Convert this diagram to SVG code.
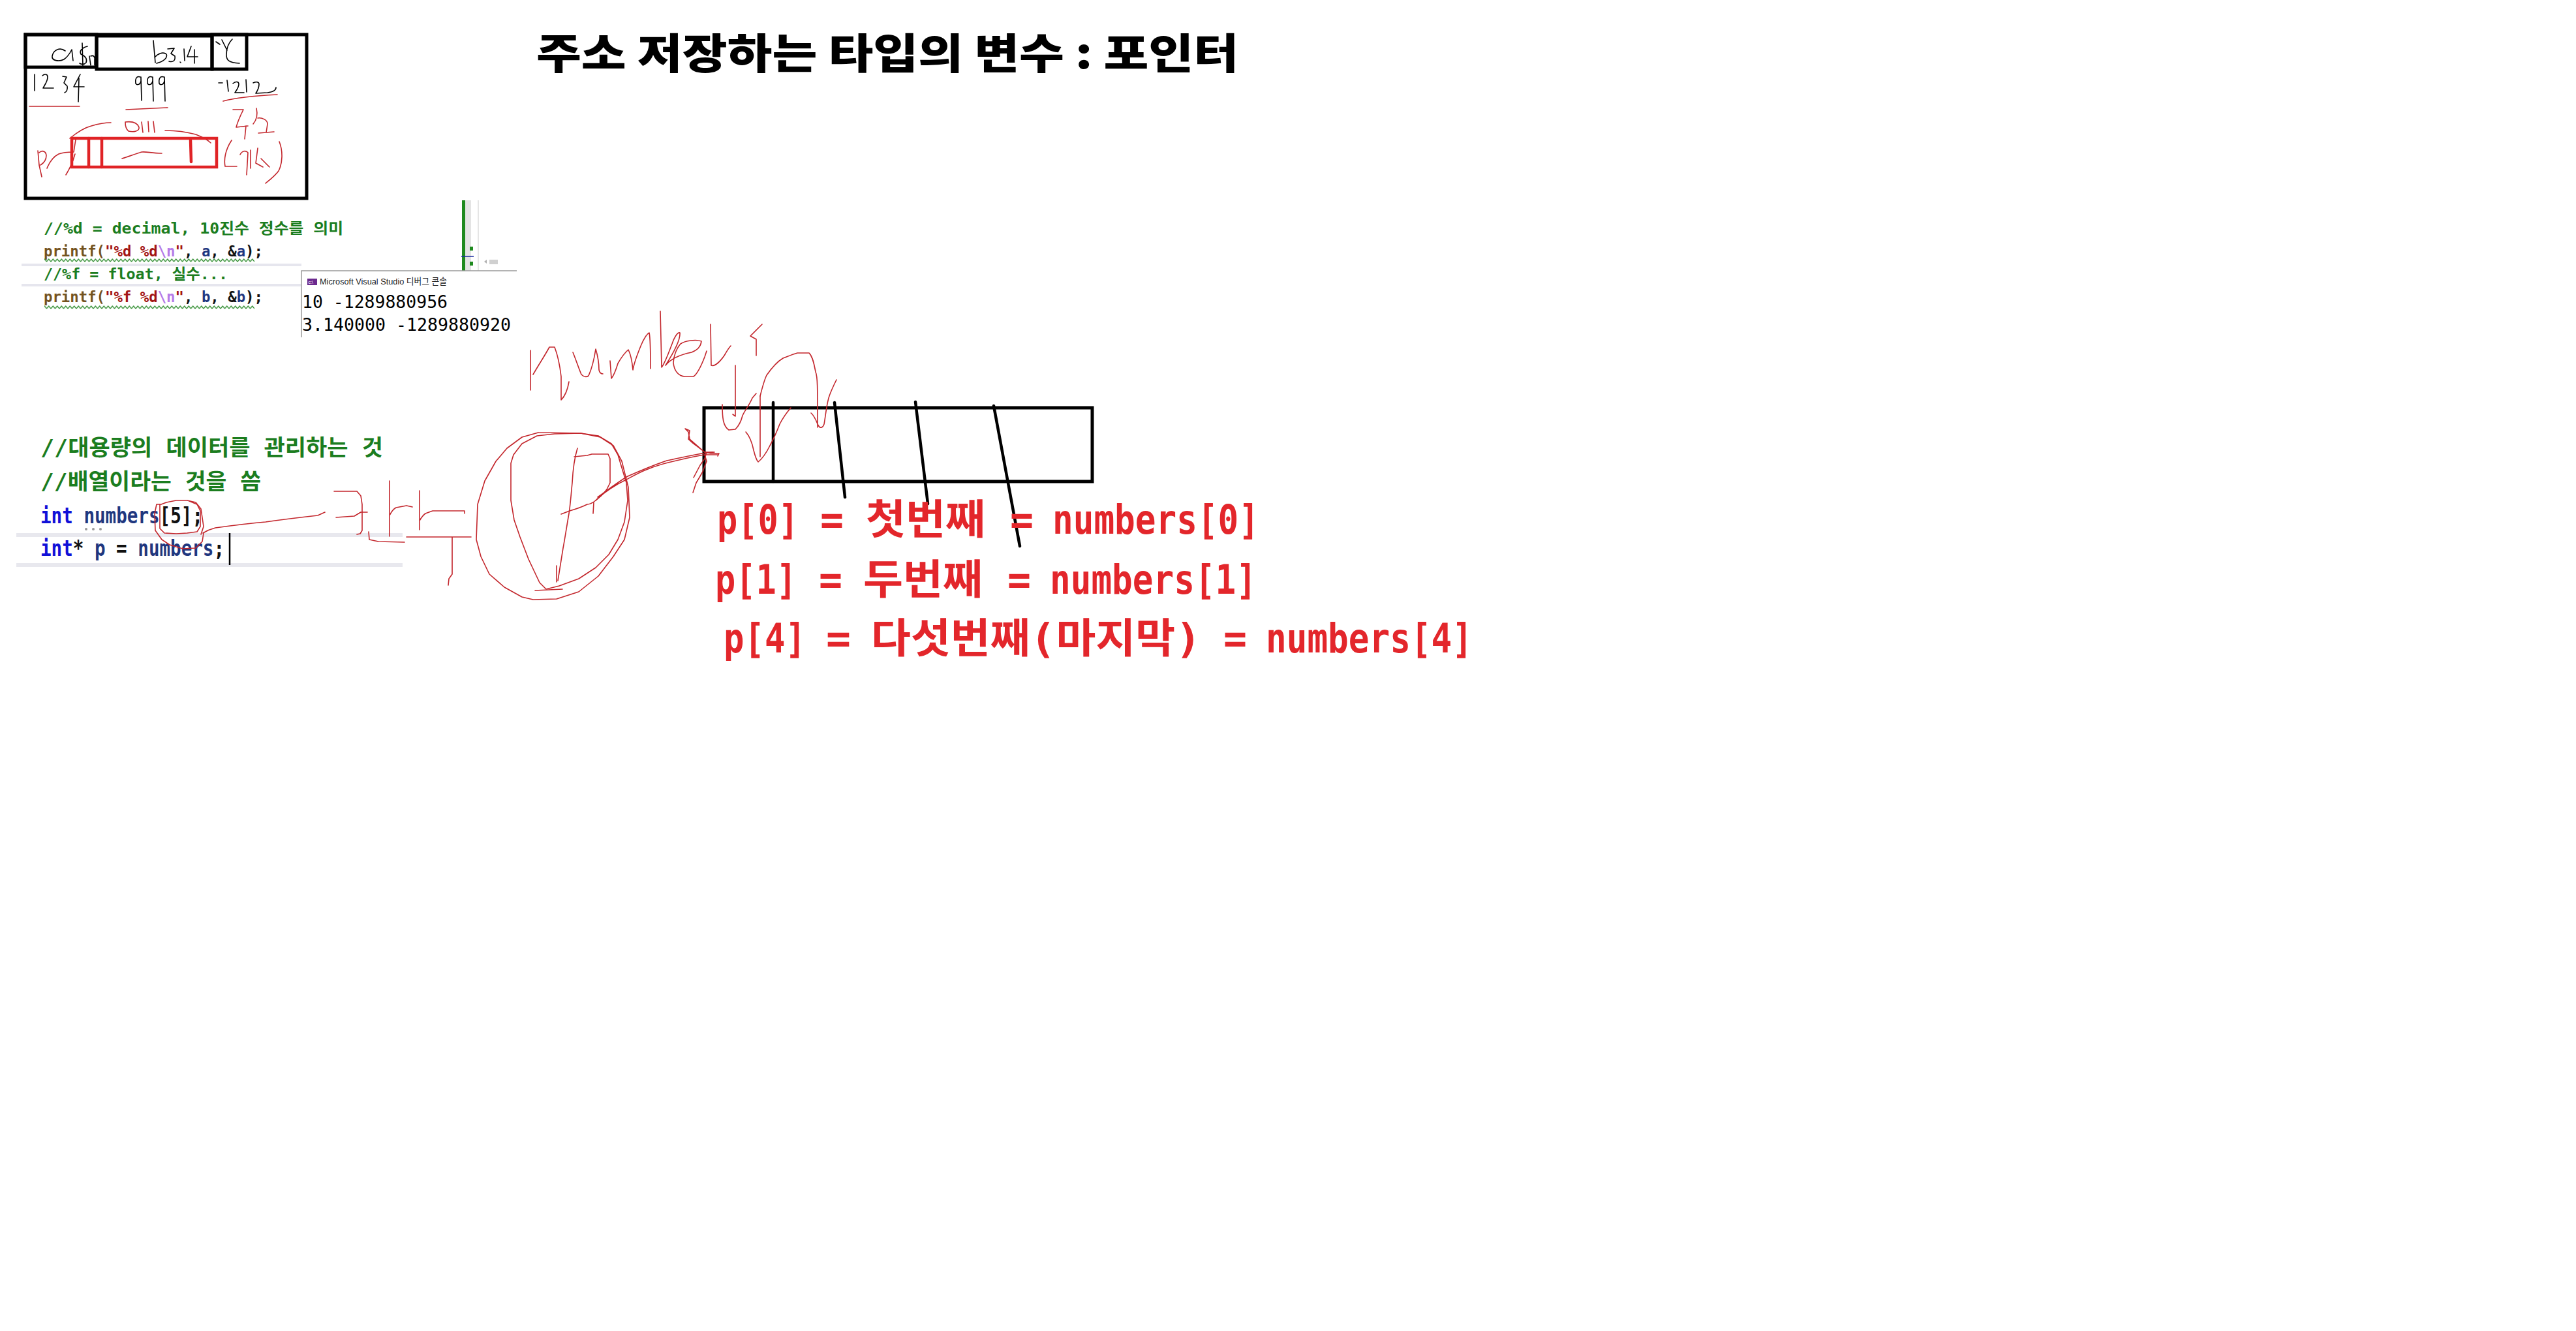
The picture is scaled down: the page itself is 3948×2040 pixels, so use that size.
<svg xmlns="http://www.w3.org/2000/svg" width="3948" height="2040" viewBox="0 0 3948 2040">
<style>
.ink{fill:none;stroke:#000;stroke-width:1.6;stroke-linecap:round;stroke-linejoin:round}
.hw{fill:none;stroke:#c3262c;stroke-width:1.6;stroke-linecap:round;stroke-linejoin:round}
.box{fill:none;stroke:#000;stroke-width:5}
.rbox{fill:none;stroke:#e02326;stroke-width:4.5;stroke-linecap:round}
.bl{stroke:#000;stroke-width:4.5;stroke-linecap:round}
.code{font-family:"DejaVu Sans Mono","Noto Sans CJK KR",monospace;font-weight:700}
.cm{fill:#1b7d1f}
.fn{fill:#74531f}
.st{fill:#a31515}
.esc{fill:#b57be8}
.var{fill:#1f377f}
.kw{fill:#1010d8}
.pn{fill:#111}
.red{font-family:"DejaVu Sans Mono","Noto Sans CJK KR",monospace;font-weight:700;font-size:63px;fill:#e3262b}
</style>
<defs>
<pattern id="sq" width="6.5" height="6" patternUnits="userSpaceOnUse"><path d="M0,5 L3.25,1 L6.5,5" fill="none" stroke="#2a8a2a" stroke-width="1.2"/></pattern>
</defs>
<rect width="3948" height="2040" fill="#fff"/>

<g id="title">
<text x="822" y="105" font-family="Noto Sans CJK KR, sans-serif" font-weight="900" font-size="64" textLength="1076" lengthAdjust="spacingAndGlyphs" fill="#000">주소 저장하는 타입의 변수 : 포인터</text>
</g>

<g id="memory-sketch">
<rect class="box" x="39" y="53" width="431" height="251"/>
<rect class="box" x="39" y="53" width="109" height="50"/>
<rect class="box" x="148" y="55" width="177" height="51"/>
<rect class="box" x="325" y="53" width="53" height="53"/>
<path class="ink" d="M100,78 C92,72 82,76 80,86 C79,93 90,95 98,91 C104,87 108,80 110,76 L112,93"/>
<path class="ink" d="M126,66 L127,101 M134,71 C126,73 121,78 124,83 C131,86 134,90 132,96 C129,99 125,99 122,97 M137,86 L139,100 M139,86 C143,84 146,87 145,92 L145,100"/>
<path class="ink" d="M235,62 L238,96 M237,88 C242,82 250,79 255,83 C257,88 252,94 240,97"/>
<path class="ink" d="M257,75 L267,74 L262,82 L268,86 C269,92 266,96 259,94 M276,95 L277,96 M282,75 L283,93 M293,71 L287,87 L303,87 M298,76 L298,97"/>
<path class="ink" d="M331,64 L337,68 M340,61 L348,77 M356,60 C350,66 347,74 347,84 C347,92 350,96 367,97"/>
<path class="ink" d="M53,114 L53,139 M65,116 C68,113 73,113 73,118 C73,125 68,131 66,135 L82,135 M96,117 L102,118 L98,127 L103,132 C104,137 102,141 99,142 M123,114 L113,133 L129,133 M121,120 L120,156"/>
<path class="ink" d="M215,118 C209,116 207,121 208,128 C210,131 215,130 216,124 L216,118 L217,154 M233,118 C227,116 225,121 226,128 C228,131 233,130 234,124 L234,118 L235,155 M251,118 C245,116 243,121 244,128 C246,131 251,130 252,124 L252,118 L253,155"/>
<path class="ink" d="M335,127 L341,127 M348,123 L350,140 M357,128 C360,125 366,124 366,129 C366,134 362,139 360,142 L374,142 M377,122 L378,141 M388,127 C392,125 397,125 397,129 C397,135 394,140 392,143 L410,142 C418,141 423,139 423,134"/>
<path class="hw" d="M45,163 L122,163 M193,168 L257,165 M342,155 C360,150 385,147 425,145"/>
<path class="hw" d="M357,168 L373,168 C368,178 364,187 362,195 L380,193 M377,193 L375,213 M393,166 C395,175 394,183 388,190 M395,181 C402,180 410,184 410,190 L408,203 M396,204 L420,202"/>
<path class="hw" d="M355,215 C345,230 343,245 345,255 L363,255 M368,237 C371,231 377,230 380,234 L378,268 M384,230 L384,258 M395,227 L392,250 L403,256 M400,243 L413,256 M428,217 C434,232 433,250 427,262 C421,270 413,276 407,281"/>
<path class="hw" d="M192,187 C200,186 210,187 213,195 C214,201 205,203 197,201 C193,198 192,193 192,187 M217,187 L219,203 M227,186 L228,202 M235,186 L237,203"/>
<path class="hw" d="M107,212 C118,203 128,196 140,193 C150,190 160,188 170,188 M253,200 C270,200 285,202 300,206 C310,210 318,214 323,219 M187,243 C197,240 207,236 217,233 C225,232 232,235 248,235"/>
<path class="hw" d="M58,231 L60,253 L64,271 M60,234 C64,230 70,231 71,238 C71,245 67,250 62,253 M72,258 C76,248 82,240 90,236 C98,233 106,233 113,233 L116,214 M101,268 C107,258 112,248 115,236"/>
<rect class="rbox" x="110" y="212" width="222" height="44"/>
<path class="rbox" d="M136,212 L136,256 M156,212 L156,256 M292,215 L293,248"/>
</g>

<g id="code-printf" class="code">
<line x1="33" y1="406" x2="462" y2="406" stroke="#e6e6ee" stroke-width="4"/>
<line x1="33" y1="437" x2="462" y2="437" stroke="#e6e6ee" stroke-width="4"/>
<text x="67" y="358" font-size="23" textLength="459" lengthAdjust="spacingAndGlyphs" class="cm">//%d = decimal, 10진수 정수를 의미</text>
<text x="67" y="393" font-size="23" textLength="336" lengthAdjust="spacingAndGlyphs"><tspan class="fn">printf(</tspan><tspan class="st">"%d %d</tspan><tspan class="esc">\n</tspan><tspan class="st">"</tspan><tspan class="pn">, </tspan><tspan class="var">a</tspan><tspan class="pn">, &amp;</tspan><tspan class="var">a</tspan><tspan class="pn">);</tspan></text>
<rect x="68" y="396" width="322" height="6" fill="url(#sq)"/>
<text x="67" y="428" font-size="23" textLength="282" lengthAdjust="spacingAndGlyphs" class="cm">//%f = float, 실수...</text>
<text x="67" y="463" font-size="23" textLength="336" lengthAdjust="spacingAndGlyphs"><tspan class="fn">printf(</tspan><tspan class="st">"%f %d</tspan><tspan class="esc">\n</tspan><tspan class="st">"</tspan><tspan class="pn">, </tspan><tspan class="var">b</tspan><tspan class="pn">, &amp;</tspan><tspan class="var">b</tspan><tspan class="pn">);</tspan></text>
<rect x="68" y="468" width="322" height="6" fill="url(#sq)"/>
<rect x="708" y="307" width="5" height="110" fill="#1f8a1f"/>
<rect x="713" y="307" width="9" height="110" fill="#e4e4e4"/>
<line x1="733" y1="307" x2="733" y2="417" stroke="#dcdcdc" stroke-width="1.5"/>
<rect x="720" y="378" width="5" height="6" fill="#1f8a1f"/>
<rect x="720" y="401" width="5" height="6" fill="#1f8a1f"/>
<line x1="707" y1="393" x2="726" y2="393" stroke="#1a2aa0" stroke-width="1.5"/>
<path d="M746,398 L742,401 L746,404 Z" fill="#b0b0b0"/>
<rect x="750" y="398" width="13" height="7" fill="#d0d0d0"/>
</g>

<g id="console">
<rect x="462" y="415" width="330" height="102" fill="#fff"/>
<path d="M462,517 L462,415 L792,415" fill="none" stroke="#9a9a9a" stroke-width="1.5"/>
<rect x="471" y="427" width="15" height="10" fill="#6b2a8e"/>
<text x="472.5" y="435" font-family="Liberation Sans, sans-serif" font-size="7" fill="#fff">c:\</text>
<text x="490" y="436" font-family="Liberation Sans, Noto Sans CJK KR, sans-serif" font-size="13.5" textLength="195" lengthAdjust="spacingAndGlyphs" fill="#222">Microsoft Visual Studio 디버그 콘솔</text>
<text x="463" y="472" font-family="DejaVu Sans Mono, monospace" font-size="27" textLength="223" lengthAdjust="spacingAndGlyphs" fill="#000">10 -1289880956</text>
<text x="463" y="507" font-family="DejaVu Sans Mono, monospace" font-size="27" textLength="320" lengthAdjust="spacingAndGlyphs" fill="#000">3.140000 -1289880920</text>
</g>

<g id="code-array" class="code">
<line x1="25" y1="820" x2="617" y2="820" stroke="#e8e8ee" stroke-width="6"/>
<line x1="25" y1="866" x2="617" y2="866" stroke="#e8e8ee" stroke-width="6"/>
<text x="62" y="698" font-size="34" textLength="525" lengthAdjust="spacingAndGlyphs" class="cm">//대용량의 데이터를 관리하는 것</text>
<text x="62" y="750" font-size="34" textLength="338" lengthAdjust="spacingAndGlyphs" class="cm">//배열이라는 것을 씀</text>
<text x="62" y="802" font-size="34" textLength="249" lengthAdjust="spacingAndGlyphs"><tspan class="kw">int</tspan><tspan class="pn"> </tspan><tspan class="var">numbers</tspan><tspan class="pn">[5];</tspan></text>
<text x="62" y="852" font-size="34" textLength="282" lengthAdjust="spacingAndGlyphs"><tspan class="kw">int</tspan><tspan class="pn">* </tspan><tspan class="var">p</tspan><tspan class="pn"> = </tspan><tspan class="var">numbers</tspan><tspan class="pn">;</tspan></text>
<circle cx="132" cy="811" r="2" fill="#9a9a9a"/>
<circle cx="143" cy="811" r="2" fill="#9a9a9a"/>
<circle cx="154" cy="811" r="2" fill="#9a9a9a"/>
<line x1="352" y1="817" x2="352" y2="866" stroke="#000" stroke-width="2.5"/>
</g>

<g id="array-box">
<rect class="box" x="1079" y="625" width="595" height="113"/>
<path class="bl" d="M1185,617 L1185,738 M1279,617 L1295,762 M1403,616 L1422,772 M1523,622 L1563,837"/>
</g>

<g id="handwriting">
<path class="hw" d="M308,819 L312,807 L308,780 L300,770 L287,767 L270,767 L255,770 L247,773 L240,773 L237,787 L238,813 L248,827 L260,835 L280,841 L300,840 L310,830 L312,817"/>
<path class="hw" d="M245,773 L245,810 L252,817 L270,818 L287,817 L302,815 L307,807 L307,783 L302,773 L290,768"/>
<path class="hw" d="M311,817 C316,814 322,811 330,809 C360,805 385,802 407,800 C435,796 460,793 487,790 L498,785"/>
<path class="hw" d="M512,753 L547,753 L553,760 L555,773 L555,813 L552,818 L547,819 M515,793 L543,791 L553,785 L563,785"/>
<path class="hw" d="M597,737 L597,822 M597,790 C600,784 603,780 607,778 L623,775 L632,777 M565,815 L566,827 L580,830 L620,831"/>
<path class="hw" d="M643,752 L643,812 M643,798 C646,793 649,789 652,787 L663,783 L712,783 L712,787 M623,823 L722,823 M693,823 L693,880 L688,887 L687,897"/>
<polyline class="hw" points="825,663 800,670 777,687 760,707 743,737 732,773 730,827 737,853 750,880 773,900 800,915 817,919 853,918 887,907 917,883 940,853 957,827 965,793 963,747 953,707 940,683 920,670 890,664 825,663"/>
<polyline class="hw" points="890,664 850,665 823,668 800,680 787,697 783,710 783,767 788,797 797,823 810,857 827,893 837,903 857,898 887,887 913,870 933,850 947,827 957,800 962,767 960,740 953,717 947,697 937,680 917,668 890,664"/>
<path class="hw" d="M885,687 C881,700 878,720 877,740 C875,760 874,775 872,787 C868,810 865,830 863,840 L855,890 M853,867 L853,892 M820,905 L862,903"/>
<path class="hw" d="M880,700 L900,698 L907,696 L932,696 L935,703 L935,740 L930,750 C925,757 918,763 913,767 C908,771 903,773 900,773 C890,778 880,781 873,783 L860,788 M910,770 L909,787"/>
<path class="hw" d="M913,767 C925,755 945,742 960,735 C975,727 990,718 1020,710 C1040,705 1060,700 1080,697 L1100,697 M916,762 C930,752 948,738 962,730 C980,722 998,714 1022,706 C1042,702 1062,697 1082,694 L1095,693"/>
<path class="hw" d="M1050,657 L1057,660 L1055,673 C1060,678 1064,681 1067,683 C1072,687 1076,690 1080,693 L1093,693 M1050,657 L1055,662 L1057,673 L1073,687 L1080,693 L1090,695 L1102,695 L1100,699 M1080,697 L1083,707 C1081,712 1079,717 1077,723 C1073,730 1070,735 1067,740 L1062,755 M1063,732 L1073,713 L1080,703 L1083,693"/>
<path class="hw" d="M813,537 L813,598 M817,574 C825,560 835,545 842,532 L850,532 C855,545 858,560 860,577 L860,613 C866,607 870,597 872,585"/>
<path class="hw" d="M878,540 C883,552 887,565 891,574 C895,578 899,578 902,576 C907,565 911,548 913,535 C916,545 918,557 918,567 C919,572 921,573 924,573"/>
<path class="hw" d="M935,553 L937,580 C941,575 944,567 947,557 C951,550 957,541 963,536 C967,544 969,556 970,567 C972,555 978,540 983,528 C987,519 991,512 995,510 C997,520 997,545 997,565"/>
<path class="hw" d="M1012,477 L1014,563 C1020,555 1025,540 1030,527 C1033,518 1038,509 1042,510 C1043,520 1036,535 1020,560 C1028,550 1040,544 1060,540 C1068,537 1074,532 1075,523 C1067,520 1050,522 1043,527 C1036,535 1032,548 1032,556 C1033,568 1040,577 1050,577 L1063,577 C1070,572 1075,560 1080,547 L1083,538"/>
<path class="hw" d="M1089,497 L1090,560 C1095,562 1103,555 1110,545 C1114,538 1117,533 1120,530 M1168,497 L1150,515 L1159,520 L1159,545"/>
<path class="hw" d="M1127,560 L1127,638 L1123,635 M1107,620 C1107,640 1108,653 1117,659 L1127,658 C1133,652 1136,645 1138,637 C1142,628 1148,622 1153,610 L1159,603 M1165,607 L1165,700"/>
<path class="hw" d="M1143,662 C1150,670 1153,680 1155,690 C1157,698 1159,705 1162,708 C1167,704 1174,695 1180,683 C1186,672 1190,663 1195,650 C1200,640 1206,632 1212,625"/>
<path class="hw" d="M1165,607 C1168,595 1171,583 1175,575 C1182,565 1190,555 1200,549 C1208,546 1215,543 1222,541 L1240,541 C1246,547 1248,560 1250,570 C1253,577 1253,590 1253,655 M1243,633 C1248,637 1251,645 1254,652 C1257,657 1261,656 1263,650 C1265,640 1266,625 1270,610 C1273,600 1278,590 1282,582"/>
</g>

<g id="index-lines">
<text class="red" x="1099" y="818" textLength="125" lengthAdjust="spacingAndGlyphs">p[0]</text>
<text class="red" x="1257" y="818" textLength="36" lengthAdjust="spacingAndGlyphs">=</text>
<text class="red" x="1327" y="818" textLength="183" lengthAdjust="spacingAndGlyphs">첫번째</text>
<text class="red" x="1548" y="818" textLength="36" lengthAdjust="spacingAndGlyphs">=</text>
<text class="red" x="1613" y="818" textLength="317" lengthAdjust="spacingAndGlyphs">numbers[0]</text>
<text class="red" x="1096" y="910" textLength="125" lengthAdjust="spacingAndGlyphs">p[1]</text>
<text class="red" x="1255" y="910" textLength="36" lengthAdjust="spacingAndGlyphs">=</text>
<text class="red" x="1323" y="910" textLength="183" lengthAdjust="spacingAndGlyphs">두번째</text>
<text class="red" x="1544" y="910" textLength="36" lengthAdjust="spacingAndGlyphs">=</text>
<text class="red" x="1609" y="910" textLength="317" lengthAdjust="spacingAndGlyphs">numbers[1]</text>
<text class="red" x="1109" y="1000" textLength="126" lengthAdjust="spacingAndGlyphs">p[4]</text>
<text class="red" x="1266" y="1000" textLength="38" lengthAdjust="spacingAndGlyphs">=</text>
<text class="red" x="1335" y="1000" textLength="506" lengthAdjust="spacingAndGlyphs">다섯번째(마지막)</text>
<text class="red" x="1875" y="1000" textLength="36" lengthAdjust="spacingAndGlyphs">=</text>
<text class="red" x="1940" y="1000" textLength="317" lengthAdjust="spacingAndGlyphs">numbers[4]</text>
</g>
</svg>
